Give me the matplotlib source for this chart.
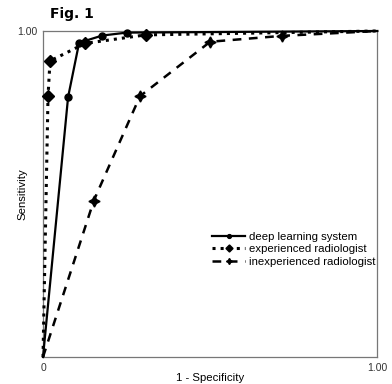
import matplotlib
matplotlib.use("Agg")
import matplotlib.pyplot as plt

plt.rcParams['font.family'] = ['Liberation Sans', 'DejaVu Sans']

dl_x = [0.0, 0.075, 0.108, 0.177, 0.25, 1.0]
dl_y = [0.0, 0.797, 0.964, 0.986, 0.995, 1.0]
exp_x = [0.0, 0.015, 0.021, 0.126, 0.307, 1.0]
exp_y = [0.0, 0.80, 0.908, 0.962, 0.988, 1.0]
inexp_x = [0.0, 0.152, 0.29, 0.50, 0.714, 1.0]
inexp_y = [0.0, 0.48, 0.80, 0.967, 0.985, 1.0]

fig = plt.figure(figsize=(3.92, 3.84), dpi=100)
ax = fig.add_axes([0.1097, 0.0703, 0.853, 0.849])

mk = slice(1, -1)
ax.plot(dl_x, dl_y, '-', color='black', lw=1.6, marker='o', ms=5, markevery=mk,
        label='deep learning system', zorder=3, clip_on=False)
ax.plot(exp_x, exp_y, ':', color='black', lw=2.2, marker='D', ms=6.5, markevery=mk,
        label='experienced radiologist', zorder=3, clip_on=False)
ax.plot(inexp_x, inexp_y, '--', color='black', lw=1.8, marker=(4, 1, 0), ms=8,
        markevery=mk, dashes=(3.5, 3), label='inexperienced radiologist',
        zorder=3, clip_on=False)

ax.set_xlim(0, 1)
ax.set_ylim(0, 1)
ax.set_xticks([0, 1])
ax.set_xticklabels(['0', '1.00'])
ax.set_yticks([1])
ax.set_yticklabels(['1.00'])
ax.tick_params(length=0, labelsize=7.5, pad=4, colors='#333333')
for s in ax.spines.values():
    s.set_color('#777777')
    s.set_linewidth(0.9)

ax.set_xlabel('1 - Specificity', fontsize=8.2, labelpad=0)
ax.set_ylabel('Sensitivity', fontsize=8.2)
ax.yaxis.set_label_coords(-0.045, 0.5)

leg = ax.legend(loc='center right', bbox_to_anchor=(1.024, 0.33), fontsize=8.2,
                frameon=False, handlelength=2.9, handletextpad=0.3,
                labelspacing=0.2, markerscale=0.55)

fig.text(0.128, 0.963, 'Fig. 1', fontsize=10, fontweight='bold',
         family='DejaVu Sans', va='center')

fig.savefig('out.png', dpi=100)
